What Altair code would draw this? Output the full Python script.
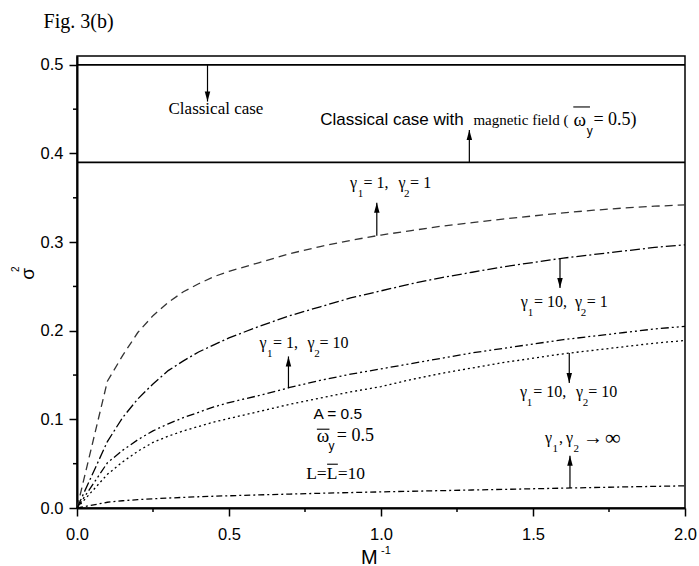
import altair as alt
import pandas as pd

# ---------------------------------------------------------------- data
# M^-1 values at which sigma^2 was evaluated
m_inv = [0.0, 0.1, 0.15, 0.2, 0.25, 0.3, 0.35, 0.4, 0.45, 0.5, 0.6, 0.7, 0.8, 0.9, 1.0,
         1.1, 1.2, 1.3, 1.4, 1.5, 1.6, 1.7, 1.8, 1.9, 2.0]

# growth rate sigma^2 for each (gamma1, gamma2) pair
g1_1_g2_1 = [0.0, 0.143, 0.172, 0.198, 0.217, 0.232, 0.244, 0.253, 0.261, 0.267,
             0.277, 0.287, 0.295, 0.302, 0.308,
             0.313, 0.318, 0.322, 0.326, 0.3295, 0.333, 0.336, 0.3385, 0.3405, 0.342]
g1_10_g2_1 = [0.0, 0.075, 0.102, 0.123, 0.140, 0.155, 0.166, 0.176, 0.184, 0.192,
              0.205, 0.217, 0.227, 0.237, 0.245,
              0.253, 0.260, 0.266, 0.272, 0.277, 0.282, 0.286, 0.290, 0.294, 0.297]
g1_1_g2_10 = [0.0, 0.051, 0.065, 0.077, 0.087, 0.095, 0.102, 0.108, 0.114, 0.119,
              0.127, 0.136, 0.144, 0.151, 0.157,
              0.163, 0.169, 0.175, 0.180, 0.185, 0.190, 0.194, 0.198, 0.202, 0.205]
g1_10_g2_10 = [0.0, 0.038, 0.052, 0.064, 0.074, 0.081, 0.087, 0.092, 0.097, 0.101,
               0.109, 0.117, 0.124, 0.131, 0.137,
               0.145, 0.152, 0.158, 0.164, 0.169, 0.174, 0.178, 0.182, 0.186, 0.189]
g_inf = [0.0, 0.0065, 0.0082, 0.0094, 0.0104, 0.0112, 0.0120, 0.0127, 0.0133, 0.0138,
         0.0148, 0.0157, 0.0166, 0.0174, 0.0182,
         0.0189, 0.0196, 0.0203, 0.0210, 0.0217, 0.0224, 0.0231, 0.0238, 0.0244, 0.0250]

# horizontal reference levels
classical_levels = [0.5, 0.39]

# pointer arrows: x position, start (on a curve / level) and tip
arrow_x = [0.4293, 1.2906, 0.9862, 1.5888, 0.6956, 1.6193, 1.6216]
arrow_from = [0.5, 0.39, 0.3072, 0.2814, 0.1356, 0.1748, 0.0225]
arrow_to = [0.4586, 0.4266, 0.3443, 0.2481, 0.171, 0.141, 0.059]

# tick positions
x_major_ticks = [0.0, 0.5, 1.0, 1.5, 2.0]
x_minor_ticks = [0.25, 0.75, 1.25, 1.75]
y_major_ticks = [0.0, 0.1, 0.2, 0.3, 0.4, 0.5]
y_minor_ticks = [0.05, 0.15, 0.25, 0.35, 0.45]

case_names = ["g1=1,g2=1", "g1=10,g2=1", "g1=1,g2=10", "g1=10,g2=10", "g->inf"]
case_values = [g1_1_g2_1, g1_10_g2_1, g1_1_g2_10, g1_10_g2_10, g_inf]
case_dashes = [[8, 5], [10, 3, 2, 3], [8, 3, 2, 3, 2, 3], [2, 3], [6, 3, 2, 3]]
case_colors = ["#333333", "black", "black", "black", "black"]

SERIF = "Liberation Serif"
SANS = "Liberation Sans"
W, H = 608, 452

xs = alt.Scale(domain=[0, 2], nice=False, zero=False)
ys = alt.Scale(domain=[0, 0.51], nice=False, zero=False)

x_axis = alt.Axis(orient="bottom", values=x_major_ticks, format=".1f",
                  tickSize=8, tickWidth=1.5, tickColor="black",
                  domainWidth=2, domainColor="black",
                  labelFont=SANS, labelFontSize=16.5, labelColor="black",
                  labelPadding=10, labelFlush=False, labelOverlap=False,
                  grid=False, title=None)
y_axis = alt.Axis(orient="left", values=y_major_ticks, format=".1f",
                  tickSize=8, tickWidth=1.5, tickColor="black",
                  domainWidth=2, domainColor="black",
                  labelFont=SANS, labelFontSize=16.5, labelColor="black",
                  labelPadding=6, labelFlush=False, labelOverlap=False,
                  grid=False, title=None)


def X(field="x", axis=None):
    return alt.X(f"{field}:Q", scale=xs, axis=axis)


def Y(field="y", axis=None):
    return alt.Y(f"{field}:Q", scale=ys, axis=axis)


# ---------------------------------------------------------------- curves
rows = []
for name, vals in zip(case_names, case_values):
    for mx, s2 in zip(m_inv, vals):
        rows.append({"x": mx, "y": s2, "case": name})

curves = alt.Chart(pd.DataFrame(rows)).mark_line(strokeWidth=1.3).encode(
    x=X(axis=x_axis),
    y=Y(axis=y_axis),
    strokeDash=alt.StrokeDash("case:N", scale=alt.Scale(domain=case_names, range=case_dashes),
                              legend=None),
    color=alt.Color("case:N", scale=alt.Scale(domain=case_names, range=case_colors),
                    legend=None),
)

levels = alt.Chart(pd.DataFrame({"y": classical_levels})).mark_rule(
    color="black", strokeWidth=1.6).encode(y=Y())

# minor ticks, pointing outward like the major ones
minor_x = alt.Chart(pd.DataFrame({"x": x_minor_ticks})).mark_rule(
    color="black", strokeWidth=1.5).encode(x=X(), y=alt.value(H), y2=alt.value(H + 4))
minor_y = alt.Chart(pd.DataFrame({"y": y_minor_ticks})).mark_rule(
    color="black", strokeWidth=1.5).encode(y=Y(), x=alt.value(0), x2=alt.value(-4))

# ---------------------------------------------------------------- arrows
arrows_df = pd.DataFrame({
    "x": arrow_x, "y": arrow_from, "y2": arrow_to,
    "dir": ["down" if t < f else "up" for f, t in zip(arrow_from, arrow_to)],
})
shafts = alt.Chart(arrows_df).mark_rule(color="black", strokeWidth=1.2).encode(
    x=X(), y=Y(), y2="y2:Q")
heads = alt.Chart(arrows_df).mark_point(filled=True, color="black", opacity=1,
                                        size=100, strokeWidth=0).encode(
    x=X(), y=Y("y2"),
    shape=alt.Shape("dir:N", scale=alt.Scale(
        domain=["down", "up"],
        range=["M0,0L-0.55,-2L0.55,-2Z", "M0,0L-0.55,2L0.55,2Z"]), legend=None),
)


# ---------------------------------------------------------------- labels
def rich(x, y, parts):
    """Piecewise text anchored at a data point; parts = (text, dx, dy, size, font)."""
    src = pd.DataFrame({"x": [x], "y": [y]})
    out = []
    for text, dx, dy, size, font in parts:
        out.append(alt.Chart(src).mark_text(
            text=text, align="left", baseline="middle", dx=dx, dy=dy,
            fontSize=size, font=font, color="black").encode(x=X(), y=Y()))
    return out


def gamma_label(x, y, offs, v1, v2):
    return rich(x, y, [
        ("γ", offs[0], 0, 16, SERIF),
        ("1", offs[1], 10.5, 11, SERIF),
        (f"= {v1},", offs[2], 0, 16, SERIF),
        ("γ", offs[3], 0, 16, SERIF),
        ("2", offs[4], 10.5, 11, SERIF),
        (f"= {v2}", offs[5], 0, 16, SERIF),
    ])


def pixel_text(text, px, py, size, font, angle=0, align="left", baseline="alphabetic"):
    src = pd.DataFrame({"k": [0]})
    mark = dict(text=text, align=align, baseline=baseline, fontSize=size,
                font=font, color="black")
    if angle:
        mark["angle"] = angle
    return alt.Chart(src).mark_text(**mark).encode(x=alt.value(px), y=alt.value(py))


texts = []
texts += rich(0.3011, 0.4500, [("Classical case", 0, 0, 17, SERIF)])
texts += rich(0.7998, 0.4379, [
    ("Classical case with", 0, 0, 17, SANS),
    ("magnetic field (", 153.3, 0, 15, SERIF),
    ("ω", 253.3, 0, 19, SERIF),
    ("y", 266.7, 11, 12, SANS),
    ("= 0.5)", 273.3, 0, 18, SERIF),
])
texts += gamma_label(0.8984, 0.3665, [0, 7.7, 13.3, 48.3, 54, 60], 1, 1)
texts += gamma_label(1.4596, 0.2319, [0, 7, 13.3, 54.3, 60, 66], 10, 1)
texts += gamma_label(0.6003, 0.1861, [0, 7.4, 13.4, 48, 54.7, 60], 1, 10)
texts += gamma_label(1.4573, 0.1304, [0, 6.7, 13.3, 56, 62.7, 68.3], 10, 10)
texts += rich(1.5394, 0.0789, [
    ("γ", 0, 0, 16, SERIF),
    ("1", 7.5, 10.5, 11, SERIF),
    (",", 14, 0, 16, SERIF),
    ("γ", 21, 0, 16, SERIF),
    ("2", 28.5, 10.5, 11, SERIF),
    ("→", 38, 0, 20, SERIF),
    ("∞", 60, 0, 22, SERIF),
])
texts += rich(0.7778, 0.1063, [("A = 0.5", 0, 0, 15.5, SANS)])
texts += rich(0.7890, 0.0807, [
    ("ω", 0, 0, 19, SERIF),
    ("y", 11.6, 10, 12, SANS),
    ("= 0.5", 20, 0, 18, SERIF),
])
texts += rich(0.7538, 0.0387, [
    ("L=", 0, 0, 17.5, SERIF),
    ("L", 20.5, 0, 17.5, SERIF),
    ("=10", 31.5, 0, 17.5, SERIF),
])

# bars over omega and L
bars = alt.Chart(pd.DataFrame({
    "x": [1.6325, 0.7890, 0.8228],
    "x2": [1.6874, 0.8304, 0.8580],
    "y": [0.4525, 0.0889, 0.0494],
})).mark_rule(color="black", strokeWidth=1.1).encode(x=X(), x2="x2:Q", y=Y())

# figure tag and axis titles (pixel offsets from the plot origin)
frame_texts = [
    pixel_text("Fig. 3(b)", -33.4, -27.7, 20, SERIF),
    pixel_text("σ", -43.4, 218, 19, SANS, angle=270, align="center"),
    pixel_text("2", -58.4, 213.2, 10, SANS, angle=270, align="center"),
    pixel_text("M", 292.3, 507.5, 20, SANS, align="center"),
    pixel_text("-1", 304, 497.5, 11, SANS),
]

chart = alt.layer(
    curves, levels, minor_x, minor_y, shafts, heads, bars, *texts, *frame_texts
).resolve_axis(
    x="independent", y="independent"
).properties(
    width=W, height=H,
    padding={"left": 77, "top": 56, "right": 14, "bottom": 58},
    autosize=alt.AutoSizeParams(type="none"),
    background="white",
).configure_view(stroke="black", strokeWidth=1.5)

chart.save("out.html", embed_options={"renderer": "svg", "actions": False})
